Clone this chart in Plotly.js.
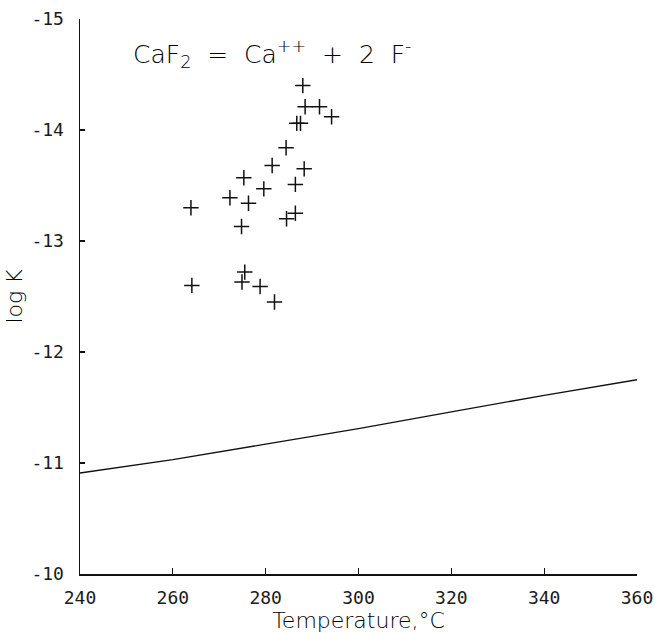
<!DOCTYPE html>
<html>
<head>
<meta charset="utf-8">
<script src="https://cdn.plot.ly/plotly-3.0.1.min.js"></script>
<style>html,body{margin:0;padding:0;background:#fff;}</style>
</head>
<body>
<div id="chart" style="width:655px;height:633px;"></div>
<script>
// Measured data points (Temperature °C, log K)
const pointTemps = [288.0, 288.5, 291.6, 294.2, 286.7, 287.5, 284.4, 281.4, 288.3, 275.3, 279.6,
                    286.4, 272.3, 276.3, 263.9, 274.8, 286.4, 284.5, 275.5, 274.9, 264.1, 278.8, 281.9];
const pointLogK  = [-14.40, -14.21, -14.21, -14.12, -14.06, -14.06, -13.84, -13.68, -13.65, -13.57, -13.47,
                    -13.51, -13.39, -13.34, -13.30, -13.13, -13.25, -13.20, -12.72, -12.63, -12.60, -12.59, -12.45];

// Calculated solubility curve
const curveTemps = [240, 260, 280, 300, 320, 340, 360];
const curveLogK  = [-10.91, -11.03, -11.17, -11.31, -11.46, -11.61, -11.75];

// Tick labels
const xTicks = [240, 260, 280, 300, 320, 340, 360];
const yTicks = [-10, -11, -12, -13, -14, -15];
const yTickText = ['-10', '-11', '-12', '-13', '-14', '-15'];

const tickFont = {family: 'DejaVu Sans Mono', size: 18, color: '#1a1a1a'};

const traces = [
  {
    x: curveTemps, y: curveLogK, type: 'scatter', mode: 'lines',
    line: {color: '#111', width: 1.3}, showlegend: false, hoverinfo: 'skip'
  },
  {
    x: pointTemps, y: pointLogK, type: 'scatter', mode: 'markers',
    marker: {symbol: 'cross-thin', size: 11, line: {color: '#111', width: 1.5}},
    showlegend: false
  }
];

const layout = {
  width: 655, height: 633,
  margin: {l: 80, r: 18, t: 19, b: 59},
  paper_bgcolor: '#fff', plot_bgcolor: '#fff',
  showlegend: false,
  title: {
    text: 'CaF<sub>2</sub>  =  Ca<sup>++</sup>  +  2  F<sup>-</sup>',
    xref: 'container', yref: 'container',
    x: 133/655, xanchor: 'left', y: 1 - 54/633, yanchor: 'middle',
    font: {family: 'DejaVu Sans', size: 25, color: '#000', weight: 200}
  },
  xaxis: {
    range: [240, 360], tickvals: xTicks, ticktext: xTicks.map(String),
    showline: true, linecolor: '#111', linewidth: 1.5,
    ticks: 'inside', ticklen: 6, tickcolor: '#111', tickwidth: 1.3,
    showgrid: false, zeroline: false, mirror: false,
    tickfont: tickFont, ticklabelstandoff: 7,
    title: {text: 'Temperature,°C', font: {family: 'DejaVu Sans', size: 22, color: '#000', weight: 200}, standoff: 4}
  },
  yaxis: {
    range: [-10, -15], tickvals: yTicks, ticktext: yTickText,
    showline: true, linecolor: '#111', linewidth: 1.5,
    ticks: 'inside', ticklen: 5, tickcolor: '#111', tickwidth: 1.3,
    showgrid: false, zeroline: false, mirror: false,
    tickfont: tickFont, ticklabelstandoff: 11,
    title: {text: 'log K', font: {family: 'DejaVu Sans', size: 22, color: '#000', weight: 200}, standoff: 2}
  }
};

Plotly.newPlot('chart', traces, layout, {displayModeBar: false, staticPlot: true});
</script>
</body>
</html>
